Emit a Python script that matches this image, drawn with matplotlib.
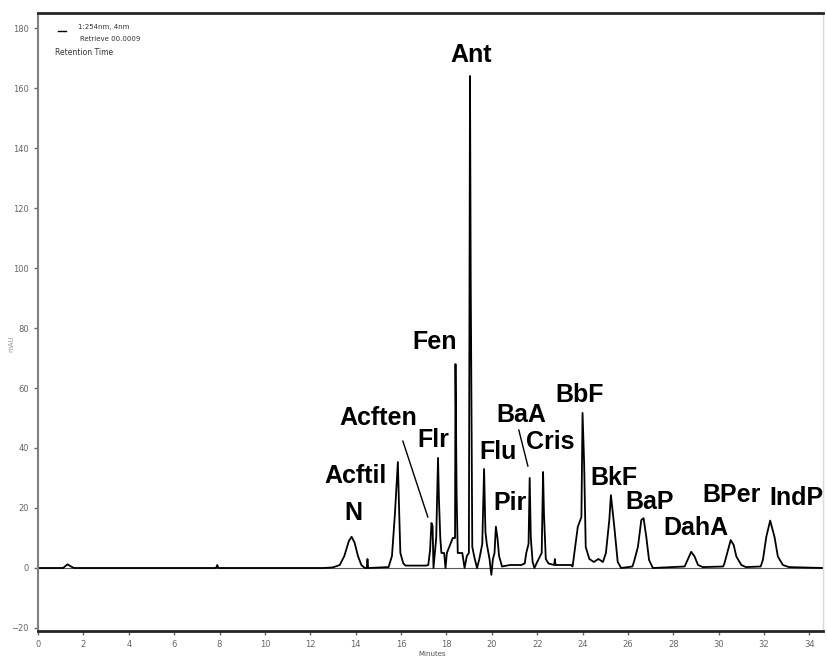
import matplotlib
matplotlib.use("Agg")
import matplotlib.pyplot as plt

# трасса хроматограммы: время удерживания (мин) и сигнал (mAU)
trace_time = [
    0.0, 1.1, 1.3, 1.5, 1.6, 7.85, 7.9, 7.95, 12.6,
    13.0, 13.3, 13.5, 13.7, 13.82, 13.95, 14.1, 14.25, 14.4,
    14.49, 14.52, 14.55, 15.45, 15.6, 15.73, 15.86, 15.92, 15.97, 16.1, 16.2, 17.1,
    17.2, 17.28, 17.34, 17.39, 17.43, 17.55, 17.63, 17.67, 17.73, 17.78, 17.9, 17.96, 18.02,
    18.28, 18.38, 18.40, 18.45, 18.5, 18.7, 18.8, 18.9,
    18.99, 19.04, 19.07, 19.14, 19.25, 19.35, 19.45,
    19.58, 19.66, 19.72, 19.78, 19.9, 19.98, 20.05,
    20.12, 20.18, 20.25, 20.32, 20.45, 20.8, 21.3,
    21.45, 21.52, 21.62, 21.67, 21.72, 21.8, 21.88,
    22.0, 22.2, 22.26, 22.3, 22.38, 22.5, 22.75, 22.78, 22.81, 23.5,
    23.56, 23.6, 23.79, 23.95, 24.0, 24.07, 24.14, 24.3, 24.5, 24.7, 24.9,
    25.03, 25.18, 25.25, 25.4, 25.55, 25.7,
    26.2, 26.29, 26.44, 26.59, 26.69, 26.81, 26.93, 27.1,
    28.5, 28.57, 28.79, 28.94, 29.09, 29.3,
    30.2, 30.26, 30.41, 30.53, 30.66, 30.78, 31.0, 31.2,
    31.85, 31.95, 32.1, 32.27, 32.46, 32.61, 32.83, 33.1, 34.6,
]
trace_signal = [
    0.0, 0.0, 1.2, 0.3, 0.0, 0.0, 1.0, 0.0, 0.0,
    0.2, 1.0, 4.0, 9.0, 10.4, 8.5, 4.0, 1.0, 0.0,
    0.0, 3.0, 0.0, 0.3, 4.0, 18.0, 35.3, 18.0, 5.0, 1.5, 0.8, 0.8,
    1.0, 6.0, 15.0, 14.0, 0.0, 10.0, 36.7, 23.0, 10.0, 5.0, 5.0, 0.0, 5.0,
    10.0, 10.0, 68.0, 24.0, 5.0, 5.0, 0.0, 4.0,
    5.0, 164.0, 98.0, 7.0, 3.0, 0.0, 3.0,
    8.0, 33.0, 12.0, 8.0, 3.0, -2.3, 3.0,
    5.0, 13.8, 10.0, 4.0, 0.5, 1.0, 1.0,
    1.5, 5.0, 8.0, 30.0, 10.0, 2.0, 0.0,
    2.0, 5.0, 32.0, 18.0, 3.0, 1.5, 1.0, 3.0, 1.0, 1.0,
    0.5, 2.7, 13.7, 17.0, 51.7, 35.0, 7.0, 3.0, 2.0, 3.0, 2.0,
    5.0, 16.0, 24.3, 13.7, 2.0, 0.0,
    0.5, 2.7, 7.0, 16.0, 16.6, 10.4, 2.7, 0.0,
    0.5, 1.7, 5.4, 3.8, 1.0, 0.3,
    0.5, 1.7, 6.0, 9.3, 7.7, 3.8, 1.0, 0.3,
    0.5, 2.7, 10.4, 15.8, 10.4, 3.8, 1.0, 0.3, 0.0,
]

# подписи пиков ПАУ
peak_names = ["N", "Acftil", "Acften", "Flr", "Fen", "Ant", "Flu", "Pir",
              "BaA", "Cris", "BbF", "BkF", "BaP", "DahA", "BPer", "IndP"]
label_t = [13.88, 14.01, 14.98, 17.44, 17.49, 19.07, 20.26, 20.79,
           21.32, 22.56, 23.88, 25.37, 26.96, 28.99, 30.57, 33.44]
label_y = [18.3, 30.7, 50.0, 42.7, 75.3, 171.0, 38.7, 21.7,
           51.0, 42.0, 57.7, 30.0, 22.0, 13.3, 24.3, 23.3]

# выносные линии для Acften и BaA
leader_t = [(16.08, 17.18), (21.19, 21.59)]
leader_y = [(42.3, 17.0), (46.0, 34.0)]

x_ticks = list(range(0, 35, 2))
y_ticks = list(range(-20, 181, 20))


def main():
    fig = plt.figure(figsize=(8.27, 6.61), dpi=100)
    ax = fig.add_axes([0.046, 0.0454, 0.9492, 0.9349])

    ax.axhline(0, color="0.35", lw=0.8, zorder=1)
    ax.plot(trace_time, trace_signal, color="black", lw=1.3, zorder=2)

    for name, t, y in zip(peak_names, label_t, label_y):
        ax.text(t, y, name, ha="center", va="center", fontsize=18,
                fontweight="bold", family=["Liberation Sans", "DejaVu Sans"],
                clip_on=False)

    for lt, ly in zip(leader_t, leader_y):
        ax.plot(lt, ly, color="black", lw=1.0)

    ax.set_xlim(0, 34.6)
    ax.set_ylim(-21, 185)
    ax.set_xticks(x_ticks)
    ax.set_yticks(y_ticks)
    ax.tick_params(axis="both", labelsize=6, colors="0.4", length=3, width=1)

    for side in ("top", "bottom"):
        ax.spines[side].set_linewidth(2)
        ax.spines[side].set_color("0.15")
    ax.spines["left"].set_linewidth(1.5)
    ax.spines["left"].set_color("0.5")
    ax.spines["right"].set_linewidth(1)
    ax.spines["right"].set_color("0.85")

    # легенда детектора в левом верхнем углу
    ax.plot([0.9, 1.25], [179, 179], color="black", lw=1)
    ax.text(1.75, 180.5, "1:254nm, 4nm", fontsize=5, va="center", color="0.2")
    ax.text(1.85, 176.5, "Retrieve 00.0009", fontsize=5, va="center", color="0.2")
    ax.text(0.75, 172, "Retention Time", fontsize=5.5, va="center", color="0.2")

    fig.text(0.523, 0.007, "Minutes", fontsize=5, ha="center", color="0.3")
    fig.text(0.01, 0.48, "mAU", fontsize=5, rotation=90, va="center", color="0.6")

    fig.savefig("out.png", dpi=100)


if __name__ == "__main__":
    main()
